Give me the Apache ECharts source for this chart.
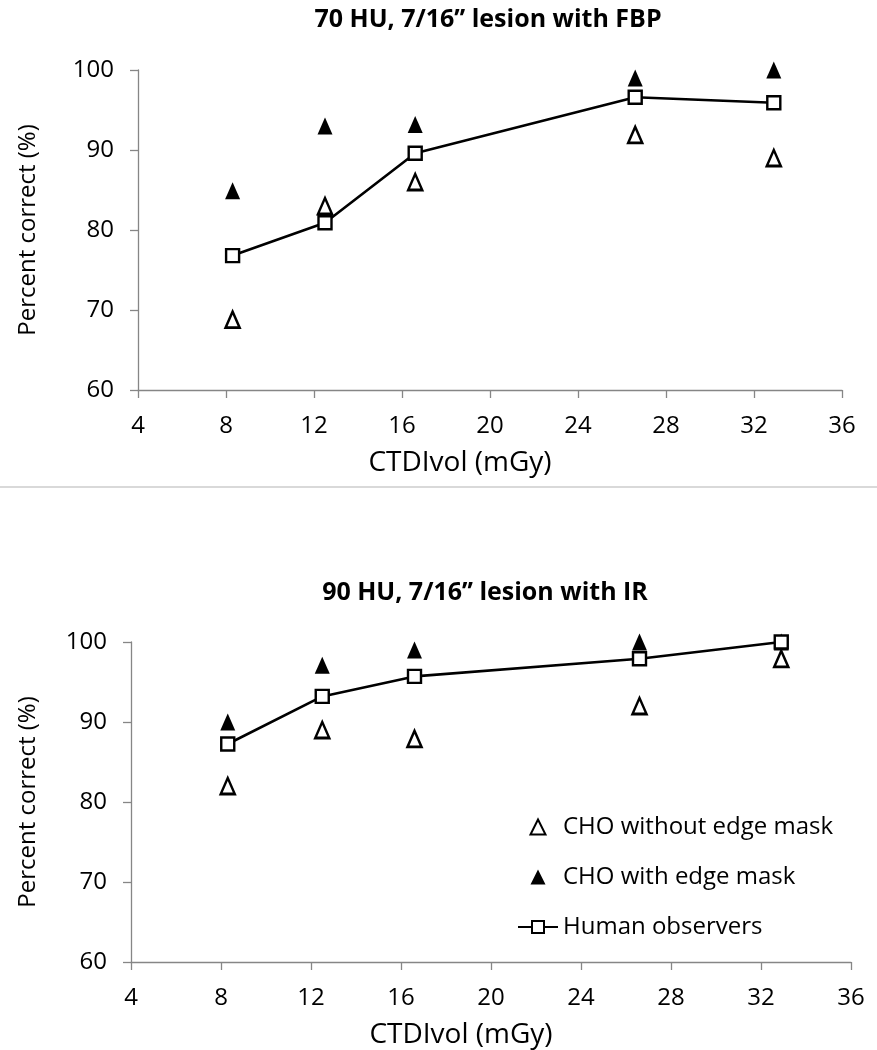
<!DOCTYPE html>
<html>
<head>
<meta charset="utf-8">
<script src="https://cdn.jsdelivr.net/npm/echarts@6/dist/echarts.min.js"></script>
<style>
  html, body { margin: 0; padding: 0; background: #ffffff; }
  #chart { width: 877px; height: 1050px; }
</style>
</head>
<body>
<div id="chart"></div>
<script>
// CTDIvol values (mGy)
const doses = [8.3, 12.5, 16.6, 26.6, 32.9];
const xTicks = [4, 8, 12, 16, 20, 24, 28, 32, 36];
const yTicks = [60, 70, 80, 90, 100];

// 70 HU, FBP
const fbpNoMask = [68.8, 83, 86, 91.9, 89];
const fbpMask = [84.9, 93, 93.2, 99, 100];
const fbpHuman = [76.8, 80.9, 89.6, 96.6, 95.9];

// 90 HU, IR
const irNoMask = [82, 89, 87.9, 92, 97.9];
const irMask = [90, 97.1, 99, 100, 100];
const irHuman = [87.25, 93.2, 95.7, 97.9, 100];

const names = ["CHO without edge mask", "CHO with edge mask", "Human observers"];
const font = "'Open Sans', 'Noto Sans', sans-serif";
// triangle icon for legend, keeps its aspect inside the 40px slot
const triIcon = "path://M5,0 L10,10 L0,10 Z";

const pairs = (ys) => doses.map((d, i) => [d, ys[i]]);

function xAxisFor(idx) {
  return {
    type: "value",
    gridIndex: idx,
    min: xTicks[0],
    max: xTicks[xTicks.length - 1],
    interval: 4,
    name: "CTDIvol (mGy)",
    nameLocation: "middle",
    nameGap: 59,
    nameTextStyle: { fontFamily: font, fontSize: 28, color: "#000", padding: [0, 60, 0, 0] },
    axisLine: { lineStyle: { color: "#868686", width: 1.3 } },
    axisTick: { length: 8, lineStyle: { color: "#868686", width: 1.3 } },
    axisLabel: { fontFamily: font, fontSize: 24, color: "#000", margin: 24 },
    splitLine: { show: false },
  };
}

function yAxisFor(idx, gap) {
  return {
    type: "value",
    gridIndex: idx,
    min: yTicks[0],
    max: yTicks[yTicks.length - 1],
    interval: 10,
    name: "Percent correct (%)",
    nameLocation: "middle",
    nameGap: gap,
    nameTextStyle: { fontFamily: font, fontSize: 24, color: "#000" },
    axisLine: { show: true, lineStyle: { color: "#868686", width: 1.3 } },
    axisTick: { show: true, length: 8, lineStyle: { color: "#868686", width: 1.3 } },
    axisLabel: { fontFamily: font, fontSize: 24, color: "#000", margin: 24 },
    splitLine: { show: false },
  };
}

function seriesFor(idx, noMask, mask, human) {
  return [
    {
      name: names[0],
      type: "scatter",
      xAxisIndex: idx,
      yAxisIndex: idx,
      symbol: "triangle",
      symbolSize: [14, 16],
      itemStyle: { color: "#ffffff", borderColor: "#000", borderWidth: 2.6, opacity: 1 },
      data: pairs(noMask),
    },
    {
      name: names[1],
      type: "scatter",
      xAxisIndex: idx,
      yAxisIndex: idx,
      symbol: "triangle",
      symbolSize: [15, 17],
      itemStyle: { color: "#000", opacity: 1 },
      data: pairs(mask),
    },
    {
      name: names[2],
      type: "line",
      xAxisIndex: idx,
      yAxisIndex: idx,
      symbol: "rect",
      symbolSize: 13,
      showAllSymbol: true,
      lineStyle: { color: "#000", width: 2.6 },
      itemStyle: { color: "#ffffff", borderColor: "#000", borderWidth: 2.4 },
      data: pairs(human),
      z: 3,
    },
  ];
}

var myChart = echarts.init(document.getElementById("chart"), null, { renderer: "canvas" });

myChart.setOption({
  animation: false,
  backgroundColor: "#ffffff",
  title: [
    {
      text: "70 HU, 7/16\u2019\u2019 lesion with FBP",
      left: 483,
      top: 2,
      textAlign: "center",
      textStyle: { fontFamily: font, fontSize: 25, fontWeight: "bold", color: "#000" },
    },
    {
      text: "90 HU, 7/16\u2019\u2019 lesion with IR",
      left: 480,
      top: 575,
      textAlign: "center",
      textStyle: { fontFamily: font, fontSize: 25, fontWeight: "bold", color: "#000" },
    },
  ],
  graphic: [
    {
      type: "rect",
      left: 0,
      top: 486,
      shape: { width: 877, height: 2 },
      style: { fill: "#d9d9d9" },
    },
  ],
  legend: {
    orient: "vertical",
    left: 512,
    top: 810,
    itemWidth: 40,
    itemHeight: 15,
    itemGap: 26,
    symbolKeepAspect: true,
    textStyle: { fontFamily: font, fontSize: 24, color: "#000" },
    data: [
      { name: names[0], icon: triIcon },
      { name: names[1], icon: triIcon },
      { name: names[2] },
    ],
  },
  grid: [
    { left: 138, top: 70, width: 704, height: 320 },
    { left: 131, top: 642, width: 720, height: 320 },
  ],
  xAxis: [xAxisFor(0), xAxisFor(1)],
  yAxis: [yAxisFor(0, 98), yAxisFor(1, 91)],
  series: [
    ...seriesFor(0, fbpNoMask, fbpMask, fbpHuman),
    ...seriesFor(1, irNoMask, irMask, irHuman),
  ],
});

window.addEventListener("resize", () => {
  myChart.resize();
});
</script>
</body>
</html>
